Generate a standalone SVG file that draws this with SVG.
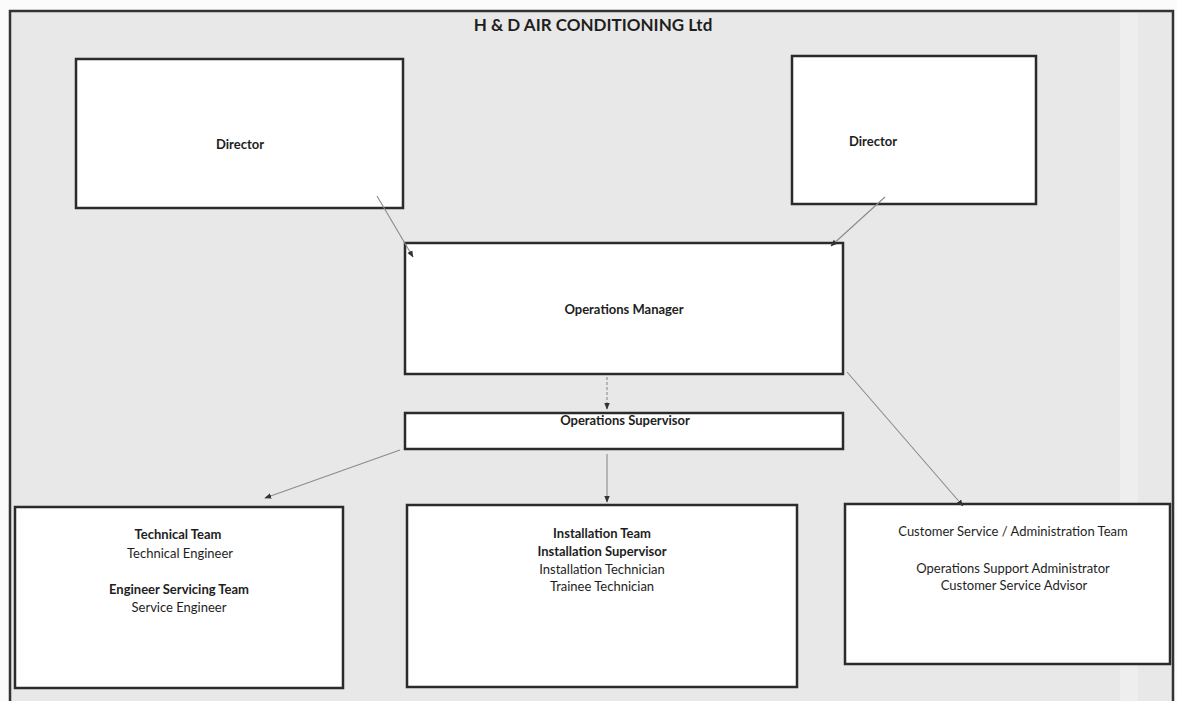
<svg xmlns="http://www.w3.org/2000/svg" width="1177" height="701" viewBox="0 0 1177 701">
<defs>
<style>
.box{fill:#ffffff;stroke:#2b2b2b;stroke-width:2.5}
.t{font-family:"Lato","Liberation Sans",sans-serif;font-size:13px;fill:#1e1e1e;text-anchor:middle}
.b{font-weight:bold}
.conn{stroke:#8a8a8a;stroke-width:1.1;fill:none}
.dash{stroke-dasharray:3 2}
</style>
<marker id="ah" viewBox="0 0 10 10" refX="9" refY="5" markerWidth="7" markerHeight="7" orient="auto" markerUnits="userSpaceOnUse">
<path d="M0,1 L10,5 L0,9 z" fill="#333333"/>
</marker>
</defs>
<rect x="0" y="0" width="1177" height="701" fill="#fbfbfb"/>
<rect x="10" y="11" width="1163" height="692" fill="#e8e8e8"/>
<rect x="1120" y="11" width="18" height="692" fill="#eeeeee"/>
<path d="M10,703 L10,11 L1173,11 L1173,703" fill="none" stroke="#333333" stroke-width="2.5"/>
<text class="t b" x="593" y="31" style="font-size:17px">H &amp; D AIR CONDITIONING Ltd</text>

<g id="director-left">
<rect class="box" x="76" y="59" width="327" height="149"/>
<text class="t b" x="240" y="149">Director</text>
</g>
<g id="director-right">
<rect class="box" x="792" y="56" width="244" height="148"/>
<text class="t b" x="873" y="146">Director</text>
</g>
<g id="operations-manager">
<rect class="box" x="405" y="243" width="438" height="131"/>
<text class="t b" x="624" y="314">Operations Manager</text>
</g>
<g id="operations-supervisor">
<rect class="box" x="405" y="413" width="438" height="36"/>
<text class="t b" x="625" y="425">Operations Supervisor</text>
</g>
<g id="technical-team">
<rect class="box" x="15" y="507" width="328" height="181"/>
<text class="t b" x="178" y="539">Technical Team</text>
<text class="t" x="180" y="558">Technical Engineer</text>
<text class="t b" x="179" y="594">Engineer Servicing Team</text>
<text class="t" x="179" y="612">Service Engineer</text>
</g>
<g id="installation-team">
<rect class="box" x="407" y="505" width="390" height="182"/>
<text class="t b" x="602" y="538">Installation Team</text>
<text class="t b" x="602" y="556">Installation Supervisor</text>
<text class="t" x="602" y="574">Installation Technician</text>
<text class="t" x="602" y="591">Trainee Technician</text>
</g>
<g id="customer-service">
<rect class="box" x="845" y="504" width="325" height="160"/>
<text class="t" x="1013" y="536">Customer Service / Administration Team</text>
<text class="t" x="1013" y="573">Operations Support Administrator</text>
<text class="t" x="1014" y="590">Customer Service Advisor</text>
</g>

<g id="connectors">
<line class="conn" x1="377" y1="196" x2="413" y2="257" marker-end="url(#ah)"/>
<line class="conn" x1="885" y1="197" x2="831" y2="246" marker-end="url(#ah)"/>
<line class="conn dash" x1="607" y1="377" x2="607" y2="409" marker-end="url(#ah)"/>
<line class="conn" x1="607" y1="454" x2="607" y2="502" marker-end="url(#ah)"/>
<line class="conn" x1="400" y1="450" x2="265" y2="498" marker-end="url(#ah)"/>
<line class="conn" x1="847" y1="372" x2="963" y2="506" marker-end="url(#ah)"/>
</g>
</svg>
